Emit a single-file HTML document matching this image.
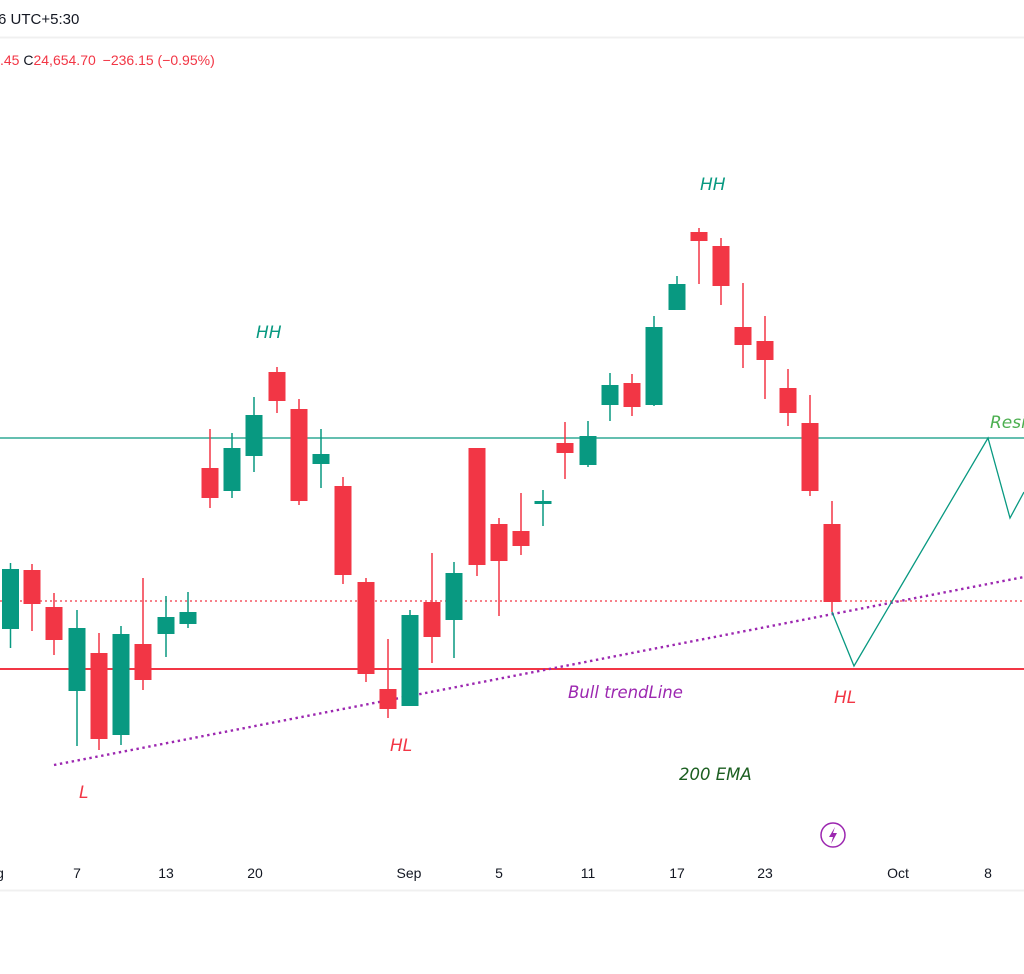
<!DOCTYPE html>
<html><head><meta charset="utf-8"><style>
html,body{margin:0;padding:0;background:#fff;}
svg{display:block;font-family:"Liberation Sans",sans-serif;}
</style></head><body>
<svg width="1024" height="974" viewBox="0 0 1024 974" xmlns="http://www.w3.org/2000/svg">
<rect width="1024" height="974" fill="#fff"/>
<text x="-2" y="24" font-size="15" fill="#131722">6 UTC+5:30</text>
<line x1="0" y1="37.5" x2="1024" y2="37.5" stroke="#f0f0f0" stroke-width="2"/>
<text x="0" y="65" font-size="14" fill="#f23645">.45 <tspan fill="#131722">C</tspan>24,654.70 <tspan dx="3">−236.15 (−0.95%)</tspan></text>

<line x1="0" y1="438" x2="1024" y2="438" stroke="#089981" stroke-width="1.3"/>
<line x1="0" y1="601" x2="1024" y2="601" stroke="#f23645" stroke-width="1.2" stroke-dasharray="2,3"/>
<line x1="0" y1="669" x2="1024" y2="669" stroke="#f23645" stroke-width="2"/>
<line x1="54" y1="765" x2="1024" y2="577" stroke="#9c27b0" stroke-width="2.4" stroke-dasharray="2.4,3.6"/>

<g>
<g stroke="#089981" stroke-width="1.5">
<line x1="10.5" y1="563" x2="10.5" y2="648"/>
<line x1="77" y1="610" x2="77" y2="746"/>
<line x1="121" y1="626" x2="121" y2="745"/>
<line x1="166" y1="596" x2="166" y2="657"/>
<line x1="188" y1="592" x2="188" y2="628"/>
<line x1="232" y1="433" x2="232" y2="498"/>
<line x1="254" y1="397" x2="254" y2="472"/>
<line x1="321" y1="429" x2="321" y2="488"/>
<line x1="410" y1="610" x2="410" y2="706"/>
<line x1="454" y1="562" x2="454" y2="658"/>
<line x1="543" y1="490" x2="543" y2="526"/>
<line x1="588" y1="421" x2="588" y2="467"/>
<line x1="610" y1="373" x2="610" y2="421"/>
<line x1="654" y1="316" x2="654" y2="406"/>
<line x1="677" y1="276" x2="677" y2="310"/>
</g>
<g fill="#089981">
<rect x="2" y="569" width="17" height="60"/>
<rect x="68.5" y="628" width="17" height="63"/>
<rect x="112.5" y="634" width="17" height="101"/>
<rect x="157.5" y="617" width="17" height="17"/>
<rect x="179.5" y="612" width="17" height="12"/>
<rect x="223.5" y="448" width="17" height="43"/>
<rect x="245.5" y="415" width="17" height="41"/>
<rect x="312.5" y="454" width="17" height="10"/>
<rect x="401.5" y="615" width="17" height="91"/>
<rect x="445.5" y="573" width="17" height="47"/>
<rect x="534.5" y="501" width="17" height="3"/>
<rect x="579.5" y="436" width="17" height="29"/>
<rect x="601.5" y="385" width="17" height="20"/>
<rect x="645.5" y="327" width="17" height="78"/>
<rect x="668.5" y="284" width="17" height="26"/>
</g>
<g stroke="#f23645" stroke-width="1.5">
<line x1="32" y1="564" x2="32" y2="631"/>
<line x1="54" y1="593" x2="54" y2="655"/>
<line x1="99" y1="633" x2="99" y2="750"/>
<line x1="143" y1="578" x2="143" y2="690"/>
<line x1="210" y1="429" x2="210" y2="508"/>
<line x1="277" y1="367" x2="277" y2="413"/>
<line x1="299" y1="399" x2="299" y2="505"/>
<line x1="343" y1="477" x2="343" y2="584"/>
<line x1="366" y1="578" x2="366" y2="682"/>
<line x1="388" y1="639" x2="388" y2="718"/>
<line x1="432" y1="553" x2="432" y2="663"/>
<line x1="477" y1="448" x2="477" y2="576"/>
<line x1="499" y1="518" x2="499" y2="616"/>
<line x1="521" y1="493" x2="521" y2="555"/>
<line x1="565" y1="422" x2="565" y2="479"/>
<line x1="632" y1="374" x2="632" y2="416"/>
<line x1="699" y1="228" x2="699" y2="284"/>
<line x1="721" y1="238" x2="721" y2="305"/>
<line x1="743" y1="283" x2="743" y2="368"/>
<line x1="765" y1="316" x2="765" y2="399"/>
<line x1="788" y1="369" x2="788" y2="426"/>
<line x1="810" y1="395" x2="810" y2="496"/>
<line x1="832" y1="501" x2="832" y2="612"/>
</g>
<g fill="#f23645">
<rect x="23.5" y="570" width="17" height="34"/>
<rect x="45.5" y="607" width="17" height="33"/>
<rect x="90.5" y="653" width="17" height="86"/>
<rect x="134.5" y="644" width="17" height="36"/>
<rect x="201.5" y="468" width="17" height="30"/>
<rect x="268.5" y="372" width="17" height="29"/>
<rect x="290.5" y="409" width="17" height="92"/>
<rect x="334.5" y="486" width="17" height="89"/>
<rect x="357.5" y="582" width="17" height="92"/>
<rect x="379.5" y="689" width="17" height="20"/>
<rect x="423.5" y="602" width="17" height="35"/>
<rect x="468.5" y="448" width="17" height="117"/>
<rect x="490.5" y="524" width="17" height="37"/>
<rect x="512.5" y="531" width="17" height="15"/>
<rect x="556.5" y="443" width="17" height="10"/>
<rect x="623.5" y="383" width="17" height="24"/>
<rect x="690.5" y="232" width="17" height="9"/>
<rect x="712.5" y="246" width="17" height="40"/>
<rect x="734.5" y="327" width="17" height="18"/>
<rect x="756.5" y="341" width="17" height="19"/>
<rect x="779.5" y="388" width="17" height="25"/>
<rect x="801.5" y="423" width="17" height="68"/>
<rect x="823.5" y="524" width="17" height="78"/>
</g>
</g>

<polyline points="832,612 854,666 988,438 1010,518 1024,492" fill="none" stroke="#089981" stroke-width="1.3"/>

<g font-style="italic" font-family="'DejaVu Sans','Liberation Sans',sans-serif" font-size="17">
<text x="256" y="338" fill="#089981">HH</text>
<text x="700" y="190" fill="#089981">HH</text>
<text x="79" y="798" fill="#f23645">L</text>
<text x="390" y="751" fill="#f23645">HL</text>
<text x="834" y="703" fill="#f23645">HL</text>
<text x="568" y="698" fill="#9c27b0" font-size="16.5">Bull trendLine</text>
<text x="679" y="780" fill="#1b5e20" font-size="16.5">200 EMA</text>
<text x="990" y="428" fill="#4caf50">Resi</text>
</g>

<circle cx="833" cy="835" r="12" fill="none" stroke="#9c27b0" stroke-width="1.5"/>
<path d="M835,827 L829,837 L833,837 L831,844 L837,833 L833,833 Z" fill="#9c27b0"/>

<g font-size="14" fill="#131722" text-anchor="middle">
<text x="0" y="878">g</text>
<text x="77" y="878">7</text>
<text x="166" y="878">13</text>
<text x="255" y="878">20</text>
<text x="409" y="878">Sep</text>
<text x="499" y="878">5</text>
<text x="588" y="878">11</text>
<text x="677" y="878">17</text>
<text x="765" y="878">23</text>
<text x="898" y="878">Oct</text>
<text x="988" y="878">8</text>
</g>
<line x1="0" y1="890.5" x2="1024" y2="890.5" stroke="#f0f0f0" stroke-width="2"/>
</svg>
</body></html>
